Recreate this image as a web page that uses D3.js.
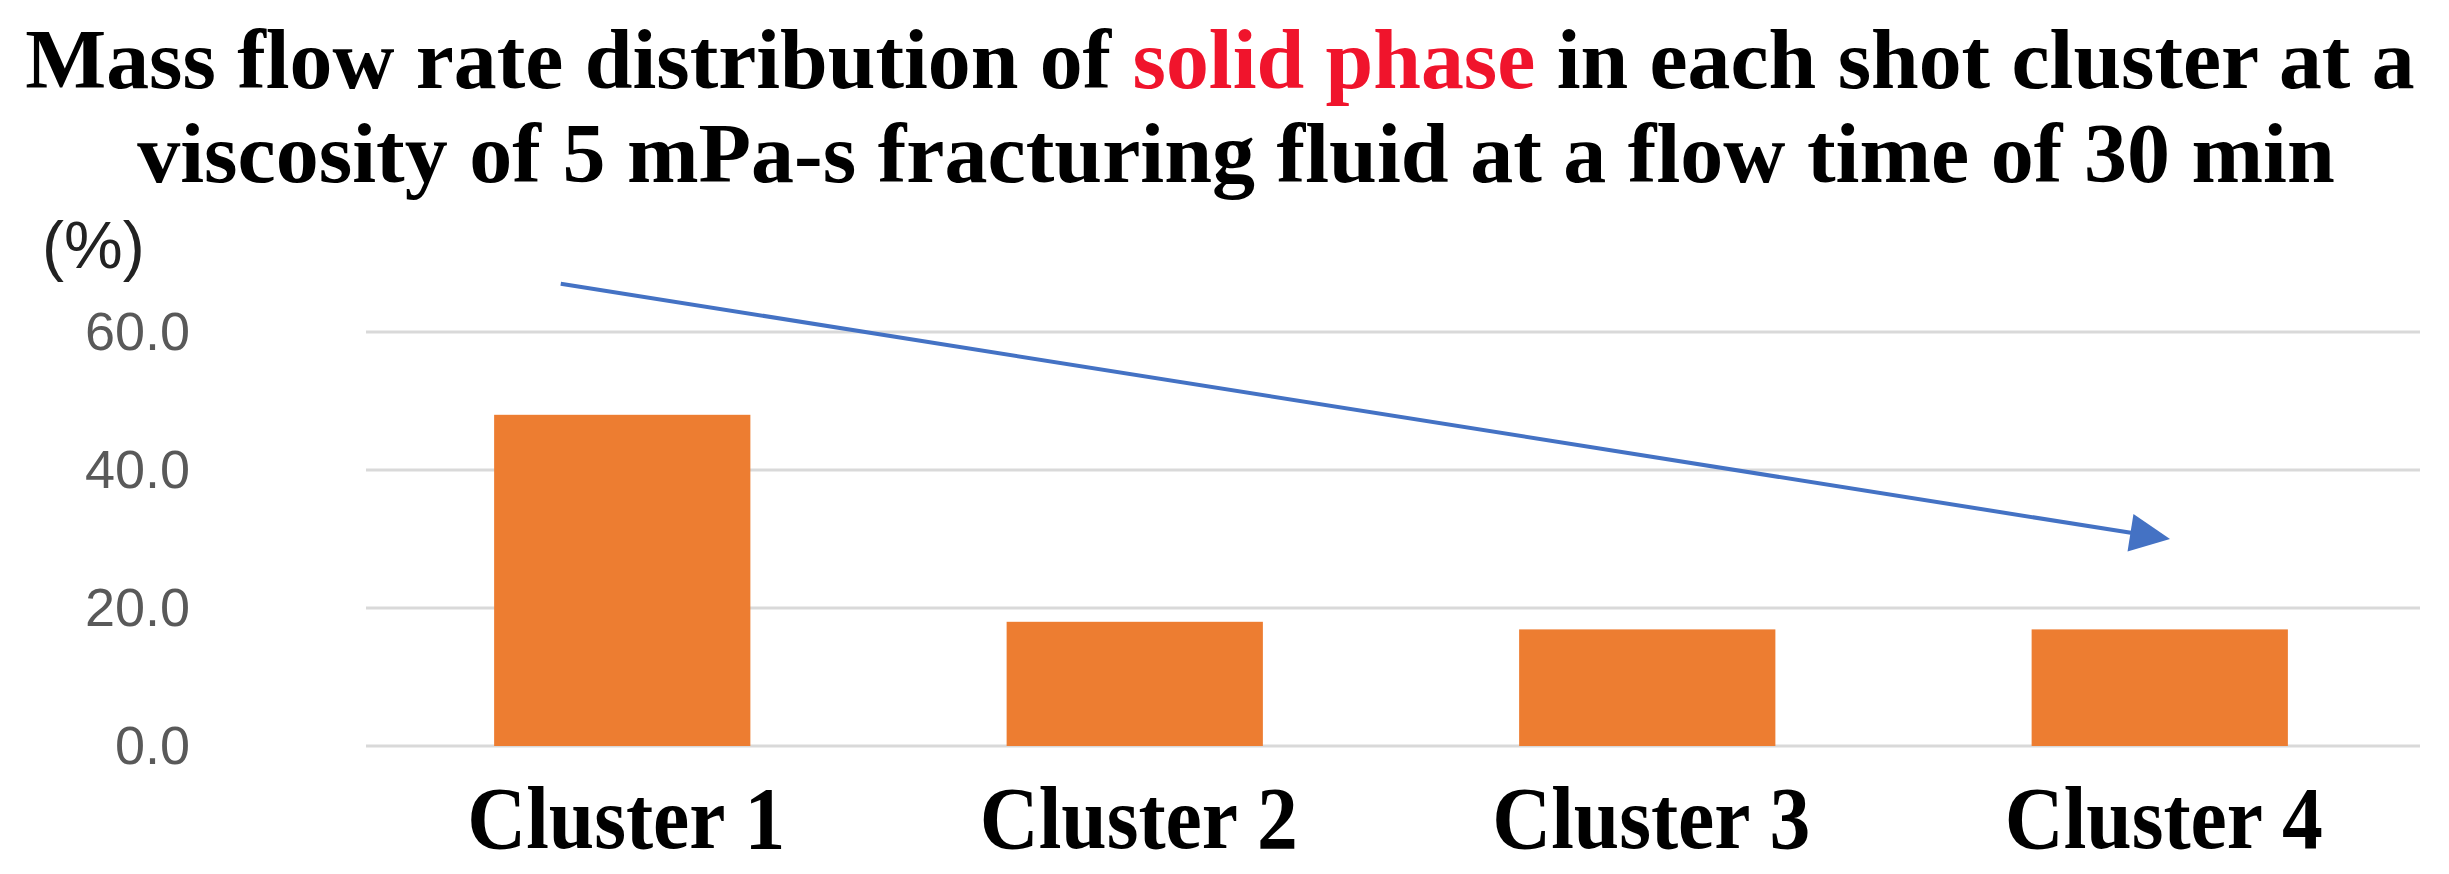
<!DOCTYPE html>
<html>
<head>
<meta charset="utf-8">
<script src="https://cdn.jsdelivr.net/npm/d3@7"></script>
<style>
  body { margin: 0; background: #fff; }
  svg { display: block; }
</style>
</head>
<body>
<script>
// chart values
var clusters = ['Cluster 1', 'Cluster 2', 'Cluster 3', 'Cluster 4'];
var massFlow = [48.0, 18.0, 16.9, 16.9];
var yTicks = [0, 20, 40, 60];
var titleLine1 = ['Mass flow rate distribution of ', 'solid phase', ' in each shot cluster at a'];
var titleLine2 = 'viscosity of 5 mPa-s fracturing fluid at a flow time of 30 min';
var unitLabel = '(%)';
// trend arrow, in data terms (category + fraction of a step, value)
var arrowFrom = { cluster: 'Cluster 1', shift: -0.12, value: 67 };
var arrowTo = { cluster: 'Cluster 4', shift: 0.02, value: 30 };

var width = 2449,
    height = 874;

var svg = d3.select('body').append('svg')
    .attr('width', width)
    .attr('height', height);

var x = d3.scaleBand()
    .domain(clusters)
    .range([366, 2416])
    .paddingInner(0.5)
    .paddingOuter(0.25);

var y = d3.scaleLinear()
    .domain([0, 60])
    .range([746, 332]);

// squeeze a text element horizontally so it spans the given width around cx
function fitWidth(sel, cx, w) {
    sel.each(function () {
        var bb = this.getBBox();
        var k = w / bb.width;
        d3.select(this)
            .attr('x', 0)
            .attr('text-anchor', 'middle')
            .attr('transform', 'translate(' + cx + ',0) scale(' + k + ',1)');
    });
}

// gridlines
svg.append('g').selectAll('line').data(yTicks).enter().append('line')
    .attr('x1', 366)
    .attr('x2', 2420)
    .attr('y1', function (d) { return y(d); })
    .attr('y2', function (d) { return y(d); })
    .style('stroke', '#d9d9d9')
    .style('stroke-width', 3);

// y tick labels
var yAxis = d3.axisLeft(y).tickValues(yTicks).tickFormat(d3.format('.1f')).tickSize(0).tickPadding(0);
svg.append('g')
    .attr('transform', 'translate(190,0)')
    .call(yAxis)
    .call(function (g) { g.select('.domain').remove(); })
    .selectAll('text')
    .style('font-family', '"Liberation Sans", Arial, sans-serif')
    .style('font-size', '54px')
    .style('fill', '#595959');

// bars
svg.selectAll('rect.bar').data(massFlow).enter().append('rect')
    .attr('class', 'bar')
    .attr('x', function (d, i) { return x(clusters[i]); })
    .attr('width', x.bandwidth())
    .attr('y', function (d) { return y(d); })
    .attr('height', function (d) { return y(0) - y(d); })
    .style('fill', '#ed7d31');

// category labels
svg.append('g').selectAll('text').data(clusters).enter().append('text')
    .attr('y', 848)
    .style('font-family', '"Liberation Serif", "Times New Roman", serif')
    .style('font-weight', 'bold')
    .style('font-size', '88px')
    .style('fill', '#000')
    .text(function (d) { return d; })
    .each(function (d) {
        fitWidth(d3.select(this), x(d) + x.bandwidth() / 2 + 4, 318);
    });

// unit label
svg.append('text')
    .attr('x', 42)
    .attr('y', 268)
    .style('font-family', '"Liberation Sans", Arial, sans-serif')
    .style('font-size', '66px')
    .style('fill', '#222')
    .text(unitLabel);

// trend arrow
function arrowPoint(a) {
    return [x(a.cluster) + x.bandwidth() / 2 + a.shift * x.step(), y(a.value)];
}
var p0 = arrowPoint(arrowFrom),
    p1 = arrowPoint(arrowTo);
var dx = p1[0] - p0[0], dy = p1[1] - p0[1];
var len = Math.sqrt(dx * dx + dy * dy);
var ux = dx / len, uy = dy / len;
var headLen = 40, headHalf = 19;
var base = [p1[0] - ux * headLen, p1[1] - uy * headLen];

svg.append('line')
    .attr('x1', p0[0]).attr('y1', p0[1])
    .attr('x2', base[0] + ux * 2).attr('y2', base[1] + uy * 2)
    .style('stroke', '#4472c4')
    .style('stroke-width', 4);

svg.append('path')
    .attr('d', d3.line()([
        p1,
        [base[0] - uy * headHalf, base[1] + ux * headHalf],
        [base[0] + uy * headHalf, base[1] - ux * headHalf]
    ]) + 'Z')
    .style('fill', '#4472c4');

// title
var t1 = svg.append('text')
    .attr('y', 88)
    .style('font-family', '"Liberation Serif", "Times New Roman", serif')
    .style('font-weight', 'bold')
    .style('font-size', '84px')
    .style('fill', '#000');
t1.selectAll('tspan').data(titleLine1).enter().append('tspan')
    .style('fill', function (d, i) { return i === 1 ? '#f0142c' : '#000'; })
    .style('white-space', 'pre')
    .attr('xml:space', 'preserve')
    .text(function (d) { return d; });
fitWidth(t1, 1220, 2390);

var t2 = svg.append('text')
    .attr('y', 182)
    .style('font-family', '"Liberation Serif", "Times New Roman", serif')
    .style('font-weight', 'bold')
    .style('font-size', '84px')
    .style('fill', '#000')
    .text(titleLine2);
fitWidth(t2, 1236, 2198);
</script>
</body>
</html>
